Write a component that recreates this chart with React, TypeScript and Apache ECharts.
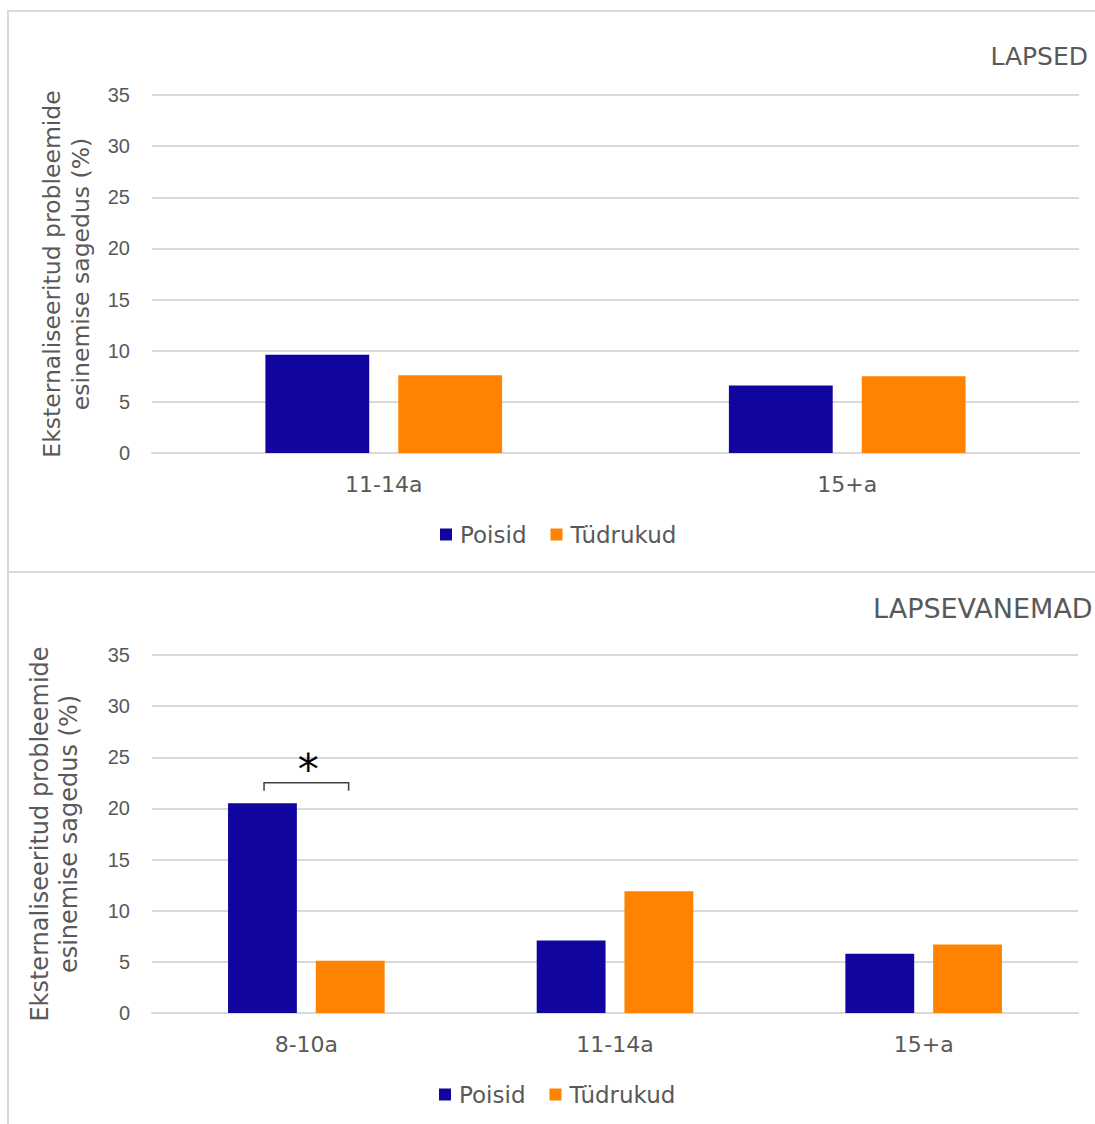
import React, { useEffect, useRef } from "react";
import * as echarts from "echarts";

const seriesNames = ["Poisid", "Tüdrukud"];
const childCategories = ["11-14a", "15+a"];
const childBoys = [9.6, 6.6];
const childGirls = [7.6, 7.5];
const parentCategories = ["8-10a", "11-14a", "15+a"];
const parentBoys = [20.5, 7.1, 5.8];
const parentGirls = [5.1, 11.9, 6.7];
const significance = [[0, 22.5]];
const panelTitles = ["LAPSED", "LAPSEVANEMAD"];
const yAxisName = "Eksternaliseeritud probleemide\nesinemise sagedus (%)";

const BLUE = "#10069F";
const ORANGE = "#FF8200";
const GREY = "#595959";
const LINE = "#D9D9D9";
const FONT = "DejaVu Sans";

export default function App() {
  const ref = useRef<HTMLDivElement>(null);
  useEffect(() => {
    if (!ref.current) return;
    const chart = echarts.init(ref.current, undefined, { renderer: "svg" });
    const yAxisCommon = {
      type: "value",
      min: 0,
      max: 35,
      interval: 5,
      axisLine: { show: false },
      axisTick: { show: false },
      axisLabel: { color: GREY, fontSize: 20, fontFamily: "Liberation Sans", margin: 22 },
      splitLine: { lineStyle: { color: LINE, width: 2 } },
      name: yAxisName,
      nameLocation: "middle",
      nameRotate: 90,
    };
    const xAxisCommon = {
      type: "category",
      axisLine: { lineStyle: { color: LINE, width: 2 } },
      axisTick: { show: false },
      axisLabel: { color: GREY, fontSize: 22, fontFamily: FONT, margin: 20 },
    };
    const legendCommon = {
      data: seriesNames,
      icon: "rect",
      itemWidth: 12,
      itemHeight: 12,
      itemGap: 24,
      textStyle: { color: GREY, fontSize: 23, fontFamily: FONT, padding: [0, 0, 0, 3] },
    };
    chart.setOption({
      animation: false,
      backgroundColor: "#fff",
      title: [
        {
          text: panelTitles[0],
          right: 7,
          top: 44,
          padding: 0,
          textStyle: { color: GREY, fontSize: 25, fontWeight: "normal", fontFamily: FONT },
        },
        {
          text: panelTitles[1],
          left: 873,
          top: 595,
          padding: 0,
          textStyle: { color: GREY, fontSize: 27, fontWeight: "normal", fontFamily: FONT },
        },
      ],
      graphic: [
        {
          type: "rect",
          shape: { x: 8, y: 11, width: 1200, height: 561 },
          style: { fill: "none", stroke: LINE, lineWidth: 2 },
          silent: true,
        },
        {
          type: "rect",
          shape: { x: 8, y: 572, width: 1200, height: 600 },
          style: { fill: "none", stroke: LINE, lineWidth: 2 },
          silent: true,
        },
      ],
      legend: [
        { ...legendCommon, left: 435, top: 518 },
        { ...legendCommon, left: 434, top: 1078 },
      ],
      grid: [
        { left: 152, right: 16, top: 95, height: 358 },
        { left: 152, right: 17, top: 655, height: 358 },
      ],
      xAxis: [
        { ...xAxisCommon, gridIndex: 0, data: childCategories },
        { ...xAxisCommon, gridIndex: 1, data: parentCategories },
      ],
      yAxis: [
        {
          ...yAxisCommon,
          gridIndex: 0,
          nameGap: 57,
          nameTextStyle: { color: GREY, fontSize: 23.5, fontFamily: FONT, lineHeight: 29 },
        },
        {
          ...yAxisCommon,
          gridIndex: 1,
          nameGap: 69,
          nameTextStyle: { color: GREY, fontSize: 24, fontFamily: FONT, lineHeight: 29 },
        },
      ],
      series: [
        {
          type: "bar",
          name: seriesNames[0],
          xAxisIndex: 0,
          yAxisIndex: 0,
          data: childBoys,
          barWidth: "22.4%",
          barGap: "28%",
          itemStyle: { color: BLUE },
        },
        {
          type: "bar",
          name: seriesNames[1],
          xAxisIndex: 0,
          yAxisIndex: 0,
          data: childGirls,
          barWidth: "22.4%",
          barGap: "28%",
          itemStyle: { color: ORANGE },
        },
        {
          type: "bar",
          name: seriesNames[0],
          xAxisIndex: 1,
          yAxisIndex: 1,
          data: parentBoys,
          barWidth: "22.3%",
          barGap: "27.5%",
          itemStyle: { color: BLUE },
        },
        {
          type: "bar",
          name: seriesNames[1],
          xAxisIndex: 1,
          yAxisIndex: 1,
          data: parentGirls,
          barWidth: "22.3%",
          barGap: "27.5%",
          itemStyle: { color: ORANGE },
        },
        {
          type: "custom",
          name: "significance",
          xAxisIndex: 1,
          yAxisIndex: 1,
          data: significance,
          silent: true,
          z: 5,
          renderItem: (params: any, api: any) => {
            const c = api.coord([api.value(0), api.value(1)]);
            const band = api.size([1, 0])[0];
            const half = band * 0.137;
            return {
              type: "group",
              children: [
                {
                  type: "polyline",
                  shape: {
                    points: [
                      [c[0] - half, c[1] + 8],
                      [c[0] - half, c[1]],
                      [c[0] + half, c[1]],
                      [c[0] + half, c[1] + 8],
                    ],
                  },
                  style: { stroke: "#404040", lineWidth: 1.5, fill: "none" },
                },
                {
                  type: "text",
                  x: c[0] + 2,
                  y: c[1] - 13,
                  style: {
                    text: "*",
                    fontSize: 42,
                    fontFamily: FONT,
                    fill: "#000",
                    align: "center",
                    verticalAlign: "middle",
                  },
                },
              ],
            };
          },
        },
      ],
    });
    return () => chart.dispose();
  }, []);
  return (
    <div
      ref={ref}
      style={{ position: "absolute", left: 0, top: 0, width: 1095, height: 1124 }}
    />
  );
}
